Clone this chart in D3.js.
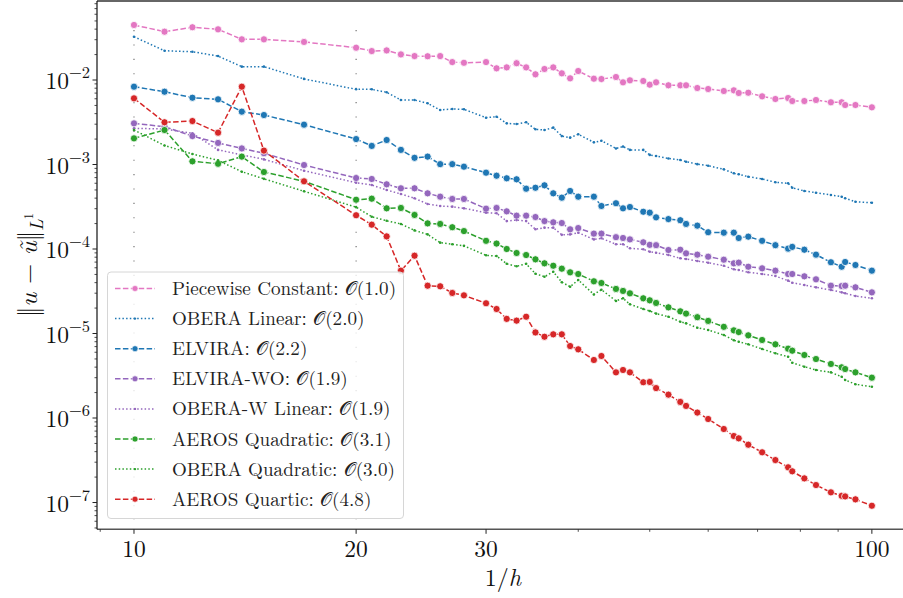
<!DOCTYPE html>
<html><head><meta charset="utf-8">
<script src="https://cdn.jsdelivr.net/npm/d3@7"></script>
<style>
body{margin:0;background:#fff;}
svg{display:block;}
</style>
</head><body><svg id="c" width="903" height="598"></svg>
<script>
// ---------------- data ----------------
const xValues = [10,11,12,13,14,15,17,20,21,22,23,24,25,26,27,28,30,31,32,33,34,35,36,37,38,39,40,42,43,45,46,47,49,50,51,53,55,56,58,60,63,65,66,68,71,74,77,78,81,84,88,91,92,95,100];

const piecewiseConstant = [0.0448,0.0373,0.0421,0.0398,0.0303,0.0303,0.0282,0.0241,0.0220,0.0224,0.0201,0.0192,0.0191,0.0192,0.0163,0.0160,0.0163,0.01375,0.0141,0.0158,0.0141,0.01168,0.0135,0.0141,0.0120,0.01047,0.01278,0.01036,0.01027,0.01085,0.00939,0.00992,0.00973,0.00880,0.00939,0.00866,0.00866,0.00866,0.00804,0.00782,0.00741,0.00755,0.00702,0.00707,0.00641,0.00596,0.00612,0.00564,0.00564,0.00580,0.00545,0.00545,0.00506,0.00506,0.00475];

const oberaLinear = [0.0325,0.0222,0.0216,0.0192,0.0144,0.0144,0.0103,0.00776,0.00776,0.00715,0.00580,0.00580,0.00530,0.00442,0.00454,0.00450,0.00358,0.00368,0.00307,0.00301,0.00316,0.00261,0.00256,0.00273,0.00217,0.00208,0.00228,0.00183,0.00191,0.00155,0.00163,0.00149,0.00149,0.00130,0.00126,0.00118,0.00113,0.00108,0.00101,0.000968,0.000877,0.000787,0.000766,0.000717,0.000674,0.000616,0.000599,0.000531,0.000486,0.000464,0.000436,0.000416,0.000398,0.000363,0.000353];

const elvira = [0.00833,0.00727,0.00617,0.00591,0.00422,0.00385,0.00296,0.00200,0.00166,0.00195,0.00149,0.00120,0.00124,0.00101,0.00101,0.000942,0.000800,0.000737,0.000687,0.000668,0.000517,0.000531,0.000567,0.000456,0.000405,0.000486,0.000416,0.000416,0.000323,0.000348,0.000303,0.000314,0.000276,0.000269,0.000237,0.000226,0.000219,0.000198,0.000189,0.000158,0.000156,0.000156,0.000135,0.000140,0.000125,0.000111,0.000101,0.000106,0.0000981,0.0000857,0.0000697,0.0000617,0.0000702,0.0000647,0.0000554];

const elviraWO = [0.00307,0.00280,0.00217,0.00180,0.00155,0.00136,0.000986,0.000692,0.000674,0.000583,0.000523,0.000523,0.000456,0.000416,0.000391,0.000391,0.000300,0.000306,0.000279,0.000248,0.000248,0.000239,0.000214,0.000207,0.000203,0.000171,0.000177,0.000152,0.000152,0.000138,0.000135,0.000130,0.000120,0.000112,0.000111,0.0000973,0.0000980,0.0000889,0.0000857,0.0000811,0.0000747,0.0000677,0.0000689,0.0000617,0.0000591,0.0000554,0.0000506,0.0000506,0.0000475,0.0000438,0.0000368,0.0000365,0.0000368,0.0000352,0.0000307];

const oberaWLinear = [0.00268,0.00263,0.00234,0.00149,0.00130,0.00115,0.000845,0.000609,0.000572,0.000499,0.000448,0.000398,0.000341,0.000323,0.000317,0.000303,0.000269,0.000265,0.000214,0.000220,0.000214,0.000171,0.000179,0.000179,0.000147,0.000149,0.000156,0.000130,0.000134,0.000114,0.000114,0.000102,0.0000992,0.0000929,0.0000904,0.0000849,0.0000776,0.0000762,0.0000721,0.0000689,0.0000634,0.0000575,0.0000564,0.0000530,0.0000506,0.0000479,0.0000422,0.0000399,0.0000375,0.0000352,0.0000327,0.0000307,0.0000299,0.0000278,0.0000261];

const aerosQuadratic = [0.00204,0.00256,0.00109,0.00102,0.00124,0.000815,0.000633,0.000383,0.000394,0.000303,0.000306,0.000253,0.000201,0.000198,0.000181,0.000163,0.000125,0.000116,0.000100,0.0000897,0.0000849,0.0000755,0.0000677,0.0000634,0.0000585,0.0000530,0.0000506,0.0000415,0.0000396,0.0000337,0.0000319,0.0000299,0.0000261,0.0000247,0.0000230,0.0000204,0.0000183,0.0000172,0.0000156,0.0000141,0.0000120,0.0000109,0.0000104,0.00000952,0.00000838,0.00000745,0.00000661,0.00000626,0.00000557,0.00000499,0.00000436,0.00000398,0.00000380,0.00000347,0.00000300];

const oberaQuadratic = [0.00256,0.00168,0.00133,0.00112,0.000822,0.000677,0.000482,0.000313,0.000241,0.000216,0.000198,0.000166,0.000149,0.000119,0.000114,0.000109,0.0000842,0.0000826,0.0000668,0.0000624,0.0000668,0.0000510,0.0000470,0.0000538,0.0000405,0.0000358,0.0000430,0.0000290,0.0000330,0.0000243,0.0000261,0.0000222,0.0000195,0.0000185,0.0000172,0.0000158,0.0000138,0.0000132,0.0000117,0.0000110,0.00000960,0.00000832,0.00000800,0.00000745,0.00000656,0.00000583,0.00000531,0.00000451,0.00000405,0.00000370,0.00000347,0.00000308,0.00000282,0.00000251,0.00000234];

const aerosQuartic = [0.00607,0.00316,0.00327,0.00238,0.00833,0.00146,0.000633,0.000251,0.000194,0.000141,0.0000554,0.0000833,0.0000368,0.0000362,0.0000302,0.0000283,0.0000228,0.0000195,0.0000149,0.0000142,0.0000158,0.0000103,0.00000916,0.00000978,0.00000978,0.00000711,0.00000650,0.00000486,0.00000542,0.00000347,0.00000370,0.00000347,0.00000265,0.00000267,0.00000226,0.00000189,0.00000155,0.00000139,0.00000116,0.000000973,0.000000741,0.000000612,0.000000575,0.000000483,0.000000393,0.000000318,0.000000261,0.000000234,0.000000193,0.000000161,0.000000132,0.000000120,0.000000118,0.000000109,0.0000000916];

const seriesNames = ["Piecewise Constant","OBERA Linear","ELVIRA","ELVIRA-WO","OBERA-W Linear","AEROS Quadratic","OBERA Quadratic","AEROS Quartic"];
const seriesOrders = ["1.0","2.0","2.2","1.9","1.9","3.1","3.0","4.8"];
const seriesValues = [piecewiseConstant, oberaLinear, elvira, elviraWO, oberaWLinear, aerosQuadratic, oberaQuadratic, aerosQuartic];

const xTickLabels = [10,20,30,100];
const xMinorTicks = [9,40,50,60,70,80,90];
const yTickExponents = [-2,-3,-4,-5,-6,-7];
const refLinesX = [10,20];
const refLinesY = [0.039, 6.2e-8];
const xDomain = [8.91, 110.2];
const yDomain = [4.82e-8, 0.0861];

// ---------------- styles ----------------
const FONT = "'Latin Modern Roman','CMU Serif','Liberation Serif',serif";
const colors = ["#e377c2","#1f77b4","#1f77b4","#9467bd","#9467bd","#2ca02c","#2ca02c","#d62728"];
const isDotted = [false,true,false,false,true,false,true,false];

// ---------------- chart ----------------
const svg = d3.select("#c").attr("font-family", FONT);
const L = 97, R = 903, T = 1, B = 529.3;
const x = d3.scaleLog().domain(xDomain).range([L, R]);
const y = d3.scaleLog().domain(yDomain).range([B, T]);

const g = svg.append("g");

refLinesX.forEach(v => {
  g.append("line").attr("x1", x(v)).attr("x2", x(v))
    .attr("y1", y(refLinesY[0])).attr("y2", y(refLinesY[1]))
    .attr("stroke", "#666").attr("stroke-width", 1.1)
    .attr("stroke-dasharray", "1.1,13.3");
});

const line = d3.line().x(d => x(d[0])).y(d => y(d[1]));

seriesValues.forEach((vals, i) => {
  const pts = vals.map((v, j) => [xValues[j], v]);
  g.append("path").datum(pts).attr("d", line)
    .attr("fill", "none").attr("stroke", colors[i])
    .attr("stroke-width", 1.5)
    .attr("stroke-dasharray", isDotted[i] ? "1.5,2.2" : "5.5,2.4");
  g.selectAll(null).data(pts).enter().append("circle")
    .attr("cx", d => x(d[0])).attr("cy", d => y(d[1]))
    .attr("r", isDotted[i] ? 1.3 : 3.6)
    .attr("fill", colors[i])
    .attr("stroke", "#fff").attr("stroke-width", isDotted[i] ? 0 : 0.8);
});

// spines
svg.append("line").attr("x1", L).attr("x2", R).attr("y1", T).attr("y2", T).attr("stroke", "#666").attr("stroke-width", 2);
svg.append("line").attr("x1", L).attr("x2", R).attr("y1", B).attr("y2", B).attr("stroke", "#555").attr("stroke-width", 1.6);
svg.append("line").attr("x1", L).attr("x2", L).attr("y1", T).attr("y2", B).attr("stroke", "#111").attr("stroke-width", 1.2);

// x ticks
const xAxisG = svg.append("g");
xTickLabels.forEach(v => {
  xAxisG.append("line").attr("x1", x(v)).attr("x2", x(v)).attr("y1", B).attr("y2", B + 4.5).attr("stroke", "#222").attr("stroke-width", 1);
  xAxisG.append("text").attr("x", x(v)).attr("y", 556.5).attr("text-anchor", "middle")
    .attr("font-size", 23.5).attr("fill", "#111").text(v);
});
xMinorTicks.forEach(v => {
  xAxisG.append("line").attr("x1", x(v)).attr("x2", x(v)).attr("y1", B).attr("y2", B + 2.5).attr("stroke", "#222").attr("stroke-width", 0.8);
});

// y ticks
const yAxisG = svg.append("g");
const yMinor = [];
for (let e = -8; e <= -2; e++) for (let m = 2; m <= 9; m++) {
  const v = m * Math.pow(10, e);
  if (v > yDomain[0] && v < yDomain[1]) yMinor.push(v);
}
yMinor.forEach(v => {
  yAxisG.append("line").attr("x1", L - 2.5).attr("x2", L).attr("y1", y(v)).attr("y2", y(v)).attr("stroke", "#222").attr("stroke-width", 0.8);
});
yTickExponents.forEach(e => {
  const v = Math.pow(10, e);
  yAxisG.append("line").attr("x1", L - 4.5).attr("x2", L).attr("y1", y(v)).attr("y2", y(v)).attr("stroke", "#222").attr("stroke-width", 1);
  const t = yAxisG.append("text").attr("x", 90).attr("y", y(v) + 9).attr("text-anchor", "end")
    .attr("font-size", 23.5).attr("fill", "#111");
  t.append("tspan").text("10");
  t.append("tspan").attr("dy", -11).attr("font-size", 16.5).text("\u2212" + (-e));
});

// axis labels
const xl = svg.append("text").attr("x", 503).attr("y", 586).attr("text-anchor", "middle").attr("font-size", 24).attr("fill", "#111");
xl.append("tspan").text("1/");
xl.append("tspan").attr("font-style", "italic").text("h");

const yl = svg.append("text").attr("transform", "translate(36.5,265) rotate(-90)").attr("text-anchor", "middle")
  .attr("font-size", 26).attr("fill", "#111");
yl.append("tspan").text("\u2016");
yl.append("tspan").attr("font-style", "italic").text("u");
yl.append("tspan").text(" \u2212 ");
yl.append("tspan").attr("font-style", "italic").text("\u0169");
yl.append("tspan").text("\u2016");
yl.append("tspan").attr("dy", 6).attr("font-style", "italic").attr("font-size", 18).text("L");
yl.append("tspan").attr("dy", -10).attr("font-size", 13).text("1");

// legend
const lg = svg.append("g");
lg.append("rect").attr("x", 107.5).attr("y", 272).attr("width", 296).attr("height", 246.5)
  .attr("rx", 3.5).attr("fill", "#fff").attr("fill-opacity", 0.8).attr("stroke", "#d6d6d6").attr("stroke-width", 1);
seriesNames.forEach((name, i) => {
  const cy = 288.5 + i * 30.1;
  lg.append("line").attr("x1", 115).attr("x2", 155).attr("y1", cy).attr("y2", cy)
    .attr("stroke", colors[i]).attr("stroke-width", 1.5)
    .attr("stroke-dasharray", isDotted[i] ? "1.5,2.2" : "5.5,2.4");
  lg.append("circle").attr("cx", 135).attr("cy", cy).attr("r", isDotted[i] ? 1.2 : 3)
    .attr("fill", colors[i]).attr("stroke", "#fff").attr("stroke-width", isDotted[i] ? 0 : 0.6);
  const t = lg.append("text").attr("x", 172).attr("y", cy + 6.5).attr("font-size", 19.1).attr("fill", "#222");
  t.append("tspan").text(name + ": ");
  t.append("tspan").text("\u{1D4AA}");
  t.append("tspan").text("(" + seriesOrders[i] + ")");
});
</script>
</body></html>
